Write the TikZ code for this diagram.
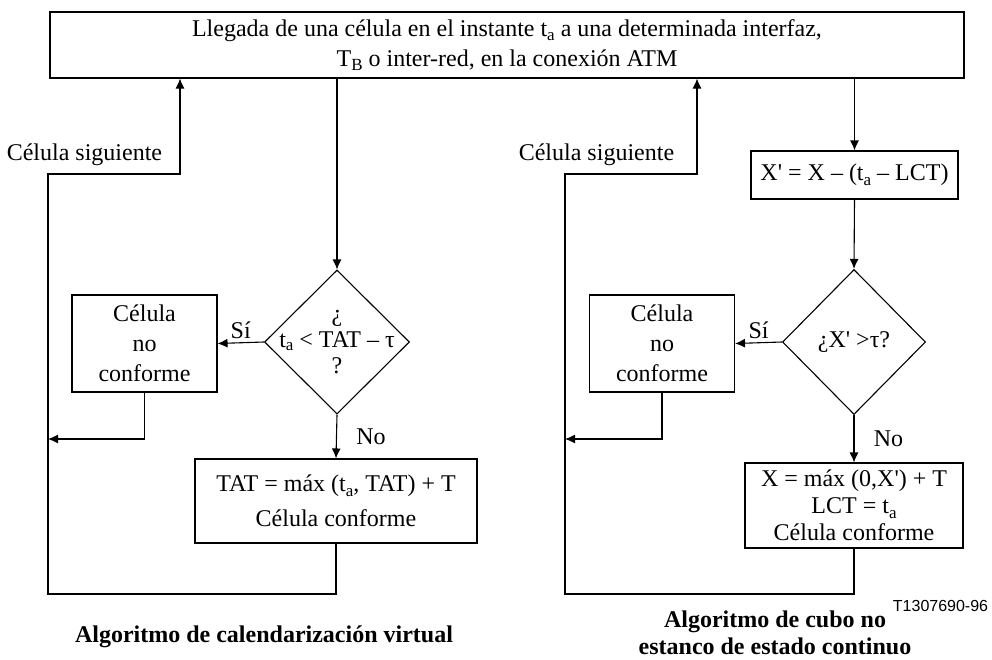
\documentclass[tikz,border=0pt]{standalone}
\usepackage{fontspec}
\setmainfont{Liberation Serif}
\newfontfamily\figfont{Liberation Sans}
\usetikzlibrary{arrows.meta,shapes.geometric}
\newcommand{\sub}[1]{\raisebox{-0.4ex}{\fontsize{17}{17}\selectfont #1}}
\newcommand{\pr}{\textquotesingle}

\tikzset{
	box/.style={draw, rectangle, align=center, inner sep=0pt},
	test/.style={draw, diamond, inner sep=0pt, minimum width=145pt, minimum height=144pt},
	flow/.style={-{Latex[length=10pt,width=9pt]}},
	title/.style={font=\fontsize{24}{27}\selectfont\bfseries, align=center},
}

\begin{document}
\begin{tikzpicture}[x=1pt,y=-1pt,line width=1.1pt,font=\fontsize{24}{30}\selectfont]
	\useasboundingbox (0,0) rectangle (992,659);
	\node[box, minimum width=914pt, minimum height=66pt] (top) at (507,45)
		{Llegada de una célula en el instante t\sub{a} a una determinada interfaz,\\T\sub{B} o inter-red, en la conexión ATM};
	%
	\begin{scope}
	\node[box, minimum width=145pt, minimum height=97pt] (nc1) at (144.5,343.5) {Célula\\no\\conforme};
	\node[test, label={[align=center, font=\fontsize{24}{26}\selectfont]center:¿\\t{\fontsize{14}{14}\selectfont\sub{a}} < TAT – τ\\?}] (d1) at (337,342) {};
	\node[box, minimum width=282pt, minimum height=84pt, font=\fontsize{24}{35}\selectfont] (ok1) at (336,501)
		{TAT = máx (t\sub{a}, TAT) + T\\Célula conforme};
	\node[anchor=east] (next1) at (166,155) {Célula siguiente};
	\coordinate (j1) at (48,439);
	\coordinate (b1) at (48,594);
	\coordinate (c1) at (48,174);
	\coordinate (u1) at (180,174);
	\draw[flow] (top.south -| d1.north) -- (d1.north);
	\draw[flow] (d1.west) -- node[above] {Sí} (nc1.east);
	\draw[flow] (d1.south) -- node[right, xshift=16pt] {No} (ok1.north);
	\draw[flow] (nc1.south) |- (j1);
	\draw[flow] (ok1.south) |- (b1) -- (c1) -- (u1) -- (u1 |- top.south);
	\end{scope}
	%
	\begin{scope}
	\node[box, minimum width=207pt, minimum height=48pt] (xp) at (854.5,175) {X\pr{} = X – (t\sub{a} – LCT)};
	\node[test, minimum width=143pt, minimum height=145pt, label={center:¿X\pr{} >τ?}] (d2) at (854,342) {};
	\node[box, minimum width=145pt, minimum height=97pt] (nc2) at (662,343.5) {Célula\\no\\conforme};
	\node[box, minimum width=218pt, minimum height=85pt, font=\fontsize{24}{27}\selectfont] (ok2) at (854,505.5)
		{X = máx (0,X\pr) + T\\LCT = t\sub{a}\\Célula conforme};
	\node[anchor=east] (next2) at (678,155) {Célula siguiente};
	\coordinate (j2) at (565,439);
	\coordinate (b2) at (565,594);
	\coordinate (c2) at (565,174);
	\coordinate (u2) at (697,174);
	\draw[flow] (top.south -| xp.north) -- (xp.north);
	\draw[flow] (xp.south) -- (d2.north);
	\draw[flow] (d2.west) -- node[above] {Sí} (nc2.east);
	\draw[flow] (d2.south) -- node[right, xshift=16pt] {No} (ok2.north);
	\draw[flow] (nc2.south) |- (j2);
	\draw[flow] (ok2.south) |- (b2) -- (c2) -- (u2) -- (u2 |- top.south);
	\end{scope}
	%
	\node[title] (title1) at (264,637) {Algoritmo de calendarización virtual};
	\node[title] (title2) at (775,633) {Algoritmo de cubo no\\estanco de estado continuo};
	\node[anchor=east, font=\figfont\fontsize{16}{18}\selectfont] (code) at (992,606) {T1307690-96};
\end{tikzpicture}
\end{document}
